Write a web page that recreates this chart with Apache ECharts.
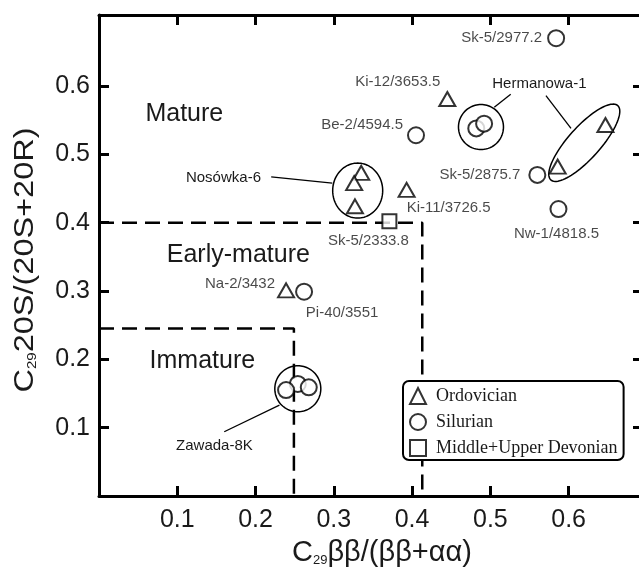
<!DOCTYPE html>
<html><head><meta charset="utf-8">
<script src="https://cdn.jsdelivr.net/npm/echarts@6/dist/echarts.min.js"></script>
<style>html,body{margin:0;padding:0;overflow:hidden;background:#fff}#c{width:660px;height:572px}</style>
</head><body><div id="c"></div>
<script>
// ---- data ----
const ordovicianPoints = [
  [0.445, 0.581, 'Ki-12/3653.5'],
  [0.647, 0.543, ''],
  [0.586, 0.482, ''],
  [0.335, 0.473, ''],
  [0.326, 0.458, ''],
  [0.327, 0.424, ''],
  [0.393, 0.448, 'Ki-11/3726.5'],
  [0.239, 0.301, 'Na-2/3432']
];
const silurianPoints = [
  [0.584, 0.670, 'Sk-5/2977.2'],
  [0.405, 0.528, 'Be-2/4594.5'],
  [0.482, 0.538, ''],
  [0.492, 0.545, ''],
  [0.560, 0.470, 'Sk-5/2875.7'],
  [0.587, 0.420, 'Nw-1/4818.5'],
  [0.262, 0.299, 'Pi-40/3551'],
  [0.254, 0.164, ''],
  [0.239, 0.155, ''],
  [0.268, 0.159, '']
];
const devonianPoints = [
  [0.371, 0.402, 'Sk-5/2333.8']
];
const maturityBoundaries = [
  [[0, 0.4], [0.413, 0.4], [0.413, 0]],
  [[0, 0.245], [0.249, 0.245], [0.249, 0]]
];
const regionLabels = [
  ['Mature', 0.109, 0.559],
  ['Early-mature', 0.178, 0.353],
  ['Immature', 0.132, 0.197]
];
const groupLabels = [
  ['Nosówka-6', 0.159, 0.465],
  ['Hermanowa-1', 0.5626, 0.603],
  ['Zawada-8K', 0.1475, 0.0727]
];
const leaderLines = [
  [0.220, 0.467, 0.298, 0.458],
  [0.526, 0.588, 0.505, 0.569],
  [0.571, 0.586, 0.603, 0.538],
  [0.2305, 0.133, 0.160, 0.094]
];
const enclosures = [
  ['Nosówka-6', 0.3305, 0.447],
  ['Hermanowa-1 ring', 0.488, 0.540],
  ['Hermanowa-1 ellipse', 0.620, 0.517],
  ['Zawada-8K', 0.254, 0.157]
];
const xTicks = [0.1, 0.2, 0.3, 0.4, 0.5, 0.6];
const yTicks = [0.1, 0.2, 0.3, 0.4, 0.5, 0.6];
const legendNames = ['Ordovician', 'Silurian', 'Middle+Upper Devonian'];
const xTitle = ['C', '29', 'ββ/(ββ+αα)'];
const yTitle = ['C', '29', '20S/(20S+20R)'];

// ---- styling (kept separate from data) ----
const SANS = '"Liberation Sans", Arial, sans-serif';
const SERIF = '"Liberation Serif", "Times New Roman", serif';
const INK = '#1a1a1a';
const labelPlacement = {
  'Sk-5/2977.2': { position: 'left', offset: [0, 0] },
  'Ki-12/3653.5': { position: 'left', offset: [7, -17] },
  'Be-2/4594.5': { position: 'left', offset: [1, -10] },
  'Sk-5/2875.7': { position: 'left', offset: [-3, 0] },
  'Nw-1/4818.5': { position: 'bottom', offset: [-2, 3] },
  'Ki-11/3726.5': { position: 'right', offset: [-14, 18] },
  'Sk-5/2333.8': { position: 'bottom', offset: [-21, -1] },
  'Na-2/3432': { position: 'left', offset: [3, -6] },
  'Pi-40/3551': { position: 'bottom', offset: [38, 0] }
};
const enclosureShape = {
  'Nosówka-6': { a: 25, b: 27.5, rot: 0 },
  'Hermanowa-1 ring': { a: 22.5, b: 22.5, rot: 0 },
  'Hermanowa-1 ellipse': { a: 50, b: 16, rot: 48 },
  'Zawada-8K': { a: 23, b: 23, rot: 0 }
};

function pointData(arr) {
  return arr.map(p => {
    const item = { value: [p[0], p[1]], name: p[2] };
    if (p[2]) {
      const pl = labelPlacement[p[2]];
      item.label = { show: true, formatter: p[2], position: pl.position, offset: pl.offset };
    }
    return item;
  });
}
const pointLabel = { show: false, fontFamily: SANS, fontSize: 15, color: INK };
const hollow = { color: '#fff', borderColor: '#000', borderWidth: 2 };
const titleRich = {
  b: { fontSize: 28, fontFamily: SANS, color: INK },
  s: { fontSize: 13, fontFamily: SANS, color: INK, verticalAlign: 'bottom' }
};
const richTitle = t => '{b|' + t[0] + '}{s|' + t[1] + '}{b|' + t[2] + '}';

const chart = echarts.init(document.getElementById('c'), null, { renderer: 'canvas' });

const axisLineStyle = { show: true, lineStyle: { color: '#000', width: 3 } };
const tickStyle = { show: true, inside: true, length: 10, lineStyle: { color: '#000', width: 3 } };
const fmt = v => (v > 0.05 && v < 0.65) ? v.toFixed(1) : '';

const option = {
  animation: false,
  backgroundColor: '#fff',
  grid: { left: 99, right: 660 - 643, top: 15, bottom: 70 },
  graphic: [{
    type: 'text', x: 25, y: 260, rotation: Math.PI / 2, scaleX: 1.16, silent: true,
    style: { text: richTitle(yTitle), rich: titleRich, align: 'center', verticalAlign: 'middle', fill: INK, font: '28px ' + SANS }
  }],
  xAxis: [{
    type: 'value', min: 0, max: 0.695, interval: 0.1, position: 'bottom',
    axisLine: Object.assign({ onZero: false }, axisLineStyle),
    axisTick: Object.assign({ customValues: xTicks }, tickStyle),
    axisLabel: { fontSize: 25, fontFamily: SANS, color: INK, margin: 12, formatter: fmt, customValues: xTicks },
    splitLine: { show: false },
    name: richTitle(xTitle),
    nameLocation: 'middle', nameGap: 42,
    nameTextStyle: { fontFamily: SANS, color: INK, fontSize: 29, padding: [0, 0, 0, 22],
      rich: { b: { fontSize: 29, fontFamily: SANS, color: INK }, s: { fontSize: 13, fontFamily: SANS, color: INK, verticalAlign: 'bottom' } } }
  }, {
    type: 'value', min: 0, max: 0.695, interval: 0.1, position: 'top',
    axisLine: Object.assign({ onZero: false }, axisLineStyle),
    axisTick: Object.assign({ customValues: xTicks }, tickStyle),
    axisLabel: { show: false }, splitLine: { show: false }
  }],
  yAxis: [{
    type: 'value', min: 0, max: 0.704, interval: 0.1, position: 'left',
    axisLine: Object.assign({ onZero: false }, axisLineStyle),
    axisTick: Object.assign({ customValues: yTicks }, tickStyle),
    axisLabel: { fontSize: 25, fontFamily: SANS, color: INK, margin: 9, formatter: fmt, customValues: yTicks },
    splitLine: { show: false }
  }, {
    type: 'value', min: 0, max: 0.704, interval: 0.1, position: 'right',
    axisLine: Object.assign({ onZero: false }, axisLineStyle),
    axisTick: Object.assign({ customValues: yTicks }, tickStyle),
    axisLabel: { show: false }, splitLine: { show: false }
  }],
  legend: {
    data: legendNames, orient: 'vertical', left: 403, top: 381,
    backgroundColor: '#fff', borderColor: '#000', borderWidth: 2, borderRadius: 6,
    padding: [6, 6, 3, 6], itemGap: 8, itemWidth: 16, itemHeight: 16,
    itemStyle: { color: '#fff', borderColor: '#000', borderWidth: 2 },
    textStyle: { fontFamily: SERIF, fontSize: 18, color: INK, lineHeight: 18, padding: [0, 0, 0, 5] },
    selectedMode: false
  },
  series: [
    ...maturityBoundaries.map((b, i) => ({
      name: 'boundary' + i, type: 'line', data: b, symbol: 'none', silent: true, z: 1,
      lineStyle: { color: '#000', width: 2.5, type: [15, 8] }
    })),
    {
      name: 'enclosures', type: 'custom', coordinateSystem: 'cartesian2d', silent: true, z: 2, clip: false,
      data: enclosures.map(e => [e[1], e[2]]),
      renderItem: function (params, api) {
        const c = api.coord([api.value(0), api.value(1)]);
        const s = enclosureShape[enclosures[params.dataIndex][0]];
        const th = s.rot * Math.PI / 180, pts = [];
        for (let k = 0; k < 96; k++) {
          const t = k / 96 * Math.PI * 2;
          const ex = s.a * Math.cos(t), ey = s.b * Math.sin(t);
          pts.push([c[0] + ex * Math.cos(th) - ey * Math.sin(th), c[1] - (ex * Math.sin(th) + ey * Math.cos(th))]);
        }
        return { type: 'polygon', shape: { points: pts }, style: { fill: 'none', stroke: '#000', lineWidth: 1.5 } };
      }
    },
    {
      name: 'leaders', type: 'custom', coordinateSystem: 'cartesian2d', silent: true, z: 2, clip: false,
      data: leaderLines.map(l => [l[0], l[1], l[2], l[3]]),
      renderItem: function (params, api) {
        const a = api.coord([api.value(0), api.value(1)]);
        const b = api.coord([api.value(2), api.value(3)]);
        return { type: 'line', shape: { x1: a[0], y1: a[1], x2: b[0], y2: b[1] }, style: { stroke: '#000', lineWidth: 1.3 } };
      }
    },
    {
      name: 'texts', type: 'custom', coordinateSystem: 'cartesian2d', silent: true, z: 3, clip: false,
      data: regionLabels.concat(groupLabels).map(t => [t[1], t[2]]),
      renderItem: function (params, api) {
        const all = regionLabels.concat(groupLabels);
        const isRegion = params.dataIndex < regionLabels.length;
        const c = api.coord([api.value(0), api.value(1)]);
        return { type: 'text', x: c[0], y: c[1], style: {
          text: all[params.dataIndex][0], fill: INK, align: 'center', verticalAlign: 'middle',
          font: (isRegion ? '25px ' : '15px ') + SANS } };
      }
    },
    {
      name: 'Ordovician', type: 'scatter', symbol: 'triangle', symbolSize: [16, 14], z: 5,
      itemStyle: hollow, label: pointLabel, data: pointData(ordovicianPoints)
    },
    {
      name: 'Silurian', type: 'scatter', symbol: 'circle', symbolSize: 16, z: 5,
      itemStyle: hollow, label: pointLabel, data: pointData(silurianPoints)
    },
    {
      name: 'Middle+Upper Devonian', type: 'scatter', symbol: 'rect', symbolSize: 14, z: 5,
      itemStyle: hollow, label: pointLabel, data: pointData(devonianPoints)
    }
  ]
};
chart.setOption(option);
</script>
</body></html>
